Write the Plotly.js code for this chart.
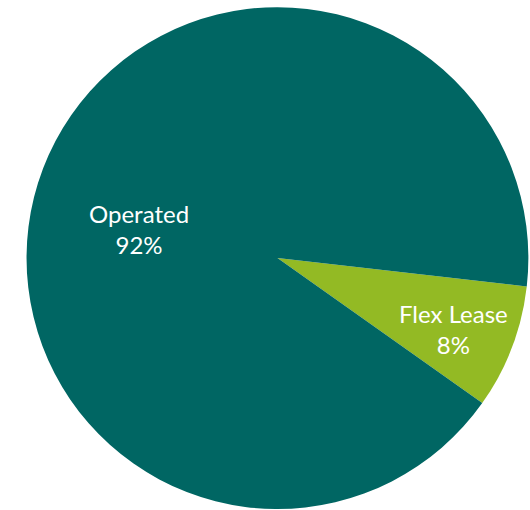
<!DOCTYPE html>
<html>
<head>
<meta charset="utf-8">
<script src="https://cdn.plot.ly/plotly-3.0.1.min.js"></script>
<style>html,body{margin:0;padding:0;background:#fff;}#chart{width:530px;height:510px;}</style>
</head>
<body>
<div id="chart"></div>
<script>
const labels = ["Flex Lease", "Operated"];
const values = [8, 92];
const colors = ["#93BA24", "#006663"];
const labelPos = [[0.855, 0.355], [0.262, 0.551]]; // paper coords for slice labels

const trace = {
  type: "pie",
  labels: labels,
  values: values,
  sort: false,
  direction: "clockwise",
  rotation: 96.5,
  marker: {colors: colors, line: {width: 0}},
  textinfo: "none",
  hoverinfo: "none",
  domain: {x: [0.05, 0.997], y: [0.002, 0.986]}
};

const total = values.reduce((a, b) => a + b, 0);
const annotations = labels.map((lab, i) => ({
  xref: "paper", yref: "paper",
  x: labelPos[i][0], y: labelPos[i][1],
  xanchor: "center", yanchor: "middle",
  showarrow: false,
  text: lab + "<br>" + Math.round(values[i] / total * 100) + "%",
  font: {family: "Lato, 'Open Sans', sans-serif", size: 24, color: "#ffffff"}
}));

Plotly.newPlot("chart", [trace], {
  width: 530, height: 510,
  margin: {l: 0, r: 0, t: 0, b: 0},
  showlegend: false,
  paper_bgcolor: "#ffffff",
  annotations: annotations
}, {displayModeBar: false, staticPlot: true});
</script>
</body>
</html>
